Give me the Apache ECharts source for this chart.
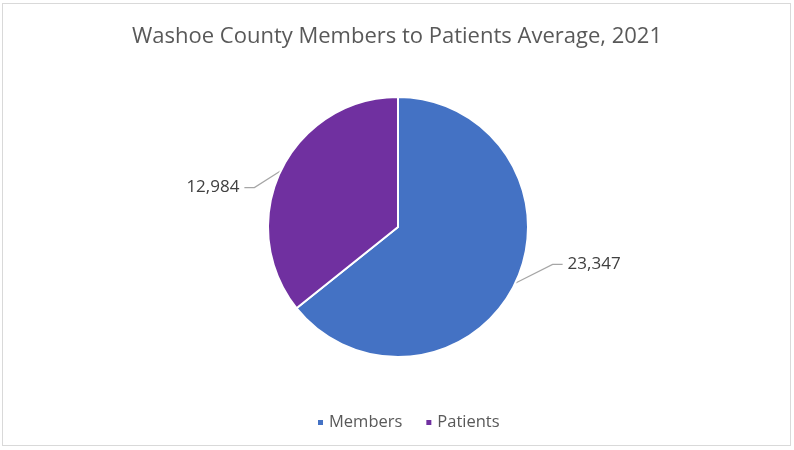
<!DOCTYPE html>
<html>
<head>
<meta charset="utf-8">
<script src="https://cdn.jsdelivr.net/npm/echarts@6/dist/echarts.min.js"></script>
<style>
html,body{margin:0;padding:0;background:#fff;}
#frame{position:absolute;left:2px;top:3px;width:789px;height:443px;border:1px solid #d9d9d9;box-sizing:border-box;}
#chart{width:794px;height:450px;}
</style>
</head>
<body>
<div id="chart"></div>
<div id="frame"></div>
<script>
const titleText = 'Washoe County Members to Patients Average, 2021';
const categories = ['Members', 'Patients'];
const values = [23347, 12984];
const colors = ['#4472C4', '#7030A0'];

const FONT = 'Open Sans';
const chart = echarts.init(document.getElementById('chart'), null, {renderer: 'canvas'});
chart.setOption({
  backgroundColor: '#fff',
  animation: false,
  title: {
    text: titleText,
    left: 'center',
    top: 21,
    textStyle: {fontFamily: FONT, fontSize: 22, fontWeight: 'normal', color: '#595959'}
  },
  legend: {
    bottom: 14,
    left: 311,
    icon: 'rect',
    itemWidth: 7,
    itemHeight: 7,
    itemGap: 22,
    textStyle: {fontFamily: FONT, fontSize: 16.5, color: '#595959'},
    data: categories
  },
  series: [{
    type: 'pie',
    center: [398, 227],
    radius: [0, 130],
    startAngle: 90,
    clockwise: true,
    data: categories.map((c, i) => ({name: c, value: values[i], itemStyle: {color: colors[i]}})),
    itemStyle: {borderColor: '#fff', borderWidth: 2},
    label: {
      show: true,
      position: 'outside',
      formatter: p => p.value.toLocaleString('en-US'),
      fontFamily: FONT,
      fontSize: 17,
      color: '#404040',
      padding: [0, 5],
      backgroundColor: 'rgba(255,255,255,0)'
    },
    labelLine: {show: true, length: 36, length2: 10, lineStyle: {color: '#a6a6a6', width: 1.2}},
    labelLayout: function (p) {
      return p.dataIndex === 0
        ? {x: p.labelRect.x, y: p.labelRect.y - 26}
        : {x: p.labelRect.x + p.labelRect.width + 11, y: p.labelRect.y + 41};
    },
    emphasis: {disabled: true}
  }]
});
</script>
</body>
</html>
